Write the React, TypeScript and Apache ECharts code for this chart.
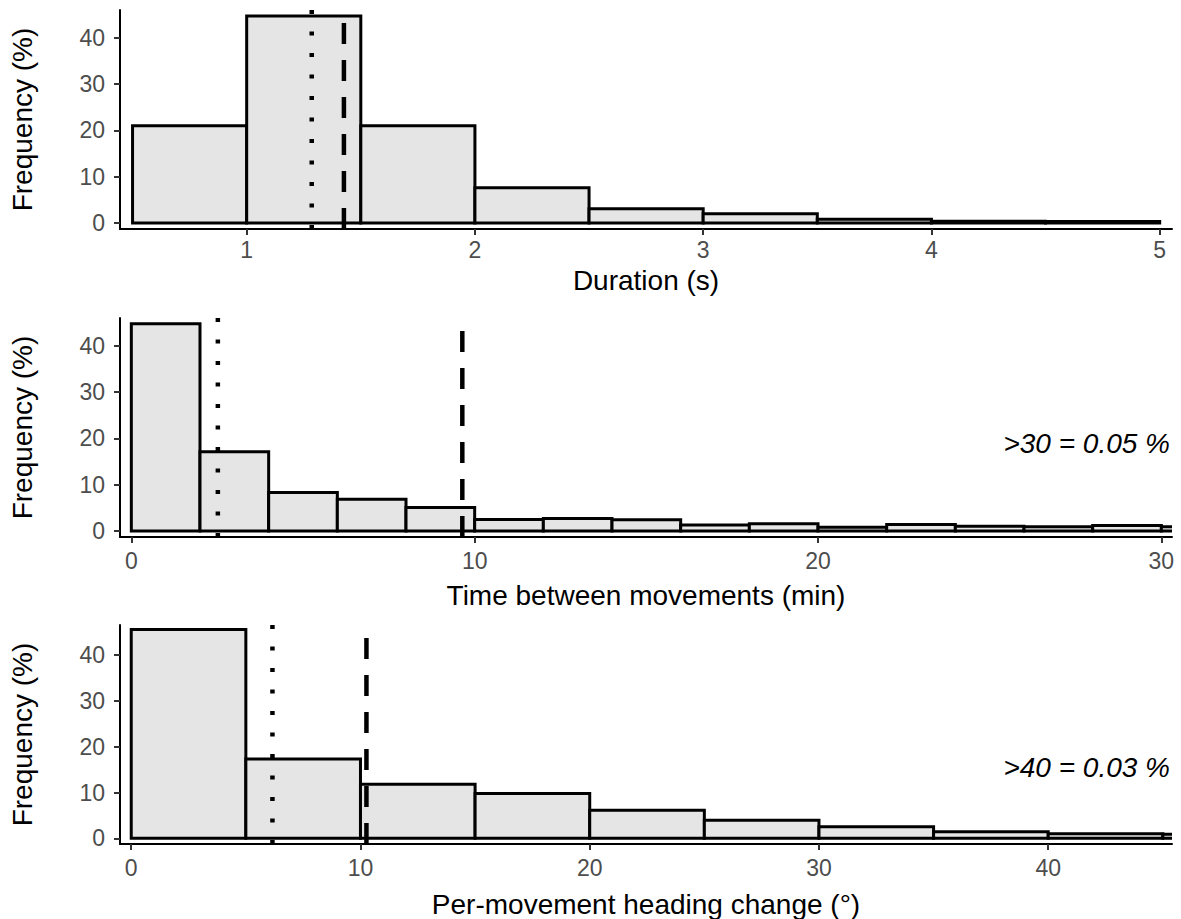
import React, { useEffect, useRef } from "react";
import * as echarts from "echarts";

// ---------- data ----------
const durationEdges = [0.5, 1, 1.5, 2, 2.5, 3, 3.5, 4, 4.5, 5];
const durationFreq = [21.0, 44.7, 21.0, 7.6, 3.1, 2.0, 0.8, 0.4, 0.3];
const durationMedian = 1.285;
const durationMean = 1.426;
const durationTicks = [1, 2, 3, 4, 5];

const intervalEdges = [0, 2, 4, 6, 8, 10, 12, 14, 16, 18, 20, 22, 24, 26, 28, 30, 32];
const intervalFreq = [44.7, 17.1, 8.3, 6.85, 5.05, 2.5, 2.7, 2.4, 1.3, 1.55, 0.8, 1.4, 1.0, 0.9, 1.2, 0.9];
const intervalMedian = 2.52;
const intervalMean = 9.64;
const intervalTicks = [0, 10, 20, 30];

const headingEdges = [0, 5, 10, 15, 20, 25, 30, 35, 40, 45, 50];
const headingFreq = [45.6, 17.3, 11.8, 9.8, 6.1, 3.95, 2.5, 1.4, 1.0, 0.9];
const headingMedian = 6.16;
const headingMean = 10.26;
const headingTicks = [0, 10, 20, 30, 40];

const freqTicks = [0, 10, 20, 30, 40];

const xTitles = ["Duration (s)", "Time between movements (min)", "Per-movement heading change (°)"];
const yTitle = "Frequency (%)";
const notes = ["", ">30 = 0.05 %", ">40 = 0.03 %"];

// axis ranges
const xRanges = [
  [0.445, 5.054],
  [-0.33, 30.31],
  [-0.49, 45.4],
];
const yRanges = [
  [-1.3, 46.0],
  [-1.3, 45.95],
  [-1.25, 46.6],
];

const FONT = '"Liberation Sans", Arial, sans-serif';

const panels = [
  { edges: durationEdges, freq: durationFreq, median: durationMedian, mean: durationMean, ticks: durationTicks },
  { edges: intervalEdges, freq: intervalFreq, median: intervalMedian, mean: intervalMean, ticks: intervalTicks },
  { edges: headingEdges, freq: headingFreq, median: headingMedian, mean: headingMean, ticks: headingTicks },
];

const gridTops = [10, 318, 625];
const gridHeight = 219;
const xNameGaps = [37, 44, 46];
const xLabelMargins = [9, 12, 12];
const noteY = [0, 443, 767];

export default function App() {
  const ref = useRef<HTMLDivElement>(null);

  useEffect(() => {
    if (!ref.current) return;
    const chart = echarts.init(ref.current, undefined, { renderer: "svg" });

    const grid = gridTops.map((t) => ({ left: 120, top: t, width: 1052, height: gridHeight }));

    const xAxis = panels.map((p, i) => ({
      type: "value",
      gridIndex: i,
      min: xRanges[i][0],
      max: xRanges[i][1],
      name: xTitles[i],
      nameLocation: "middle",
      nameGap: xNameGaps[i],
      nameTextStyle: { color: "#000", fontSize: 28, fontFamily: FONT },
      axisLine: { show: true, onZero: false, lineStyle: { color: "#000", width: 2 } },
      axisTick: { show: true, length: 6, customValues: p.ticks, lineStyle: { color: "#333", width: 2 } },
      axisLabel: { customValues: p.ticks, color: "#4d4d4d", fontSize: 23, fontFamily: FONT, margin: xLabelMargins[i] },
      splitLine: { show: false },
    }));

    const yAxis = panels.map((p, i) => ({
      type: "value",
      gridIndex: i,
      min: yRanges[i][0],
      max: yRanges[i][1],
      name: yTitle,
      nameLocation: "middle",
      nameGap: 84,
      nameTextStyle: { color: "#000", fontSize: 28, fontFamily: FONT },
      axisLine: { show: true, onZero: false, lineStyle: { color: "#000", width: 2 } },
      axisTick: { show: true, length: 6, customValues: freqTicks, lineStyle: { color: "#333", width: 2 } },
      axisLabel: { customValues: freqTicks, color: "#4d4d4d", fontSize: 23, fontFamily: FONT, margin: 15 },
      splitLine: { show: false },
    }));

    const series: any[] = [];
    panels.forEach((p, i) => {
      const data = p.freq.map((f, k) => [p.edges[k], p.edges[k + 1], f]);
      series.push({
        type: "custom",
        xAxisIndex: i,
        yAxisIndex: i,
        clip: true,
        encode: { x: [0, 1], y: 2 },
        data,
        renderItem: (params: any, api: any) => {
          const a = api.coord([api.value(0), api.value(2)]);
          const b = api.coord([api.value(1), 0]);
          return {
            type: "rect",
            shape: { x: a[0], y: a[1], width: b[0] - a[0], height: b[1] - a[1] },
            style: { fill: "#e5e5e5", stroke: "#000", lineWidth: 3 },
          };
        },
        z: 2,
      });
      series.push({
        type: "line",
        xAxisIndex: i,
        yAxisIndex: i,
        data: [
          [p.median, yRanges[i][0]],
          [p.median, yRanges[i][1]],
        ],
        symbol: "none",
        lineStyle: { color: "#000", width: 4.5, type: [4, 17.5], cap: "butt" },
        z: 5,
      });
      series.push({
        type: "line",
        xAxisIndex: i,
        yAxisIndex: i,
        data: [
          [p.mean, yRanges[i][0]],
          [p.mean, yRanges[i][1]],
        ],
        symbol: "none",
        lineStyle: { color: "#000", width: 4.5, type: [21, 16], cap: "butt" },
        z: 5,
      });
    });

    const graphic = notes
      .map((t, i) => ({ t, i }))
      .filter((n) => n.t)
      .map((n) => ({
        type: "text",
        x: 1170,
        y: noteY[n.i],
        style: {
          text: n.t,
          fontSize: 28,
          fontStyle: "italic",
          fontFamily: FONT,
          fill: "#000",
          align: "right",
          verticalAlign: "middle",
        },
      }));

    chart.setOption({
      animation: false,
      backgroundColor: "#fff",
      grid,
      xAxis,
      yAxis,
      series,
      graphic,
    });

    return () => chart.dispose();
  }, []);

  return (
    <div
      ref={ref}
      style={{ position: "absolute", left: 0, top: 0, width: 1181, height: 919, background: "#fff" }}
    />
  );
}
